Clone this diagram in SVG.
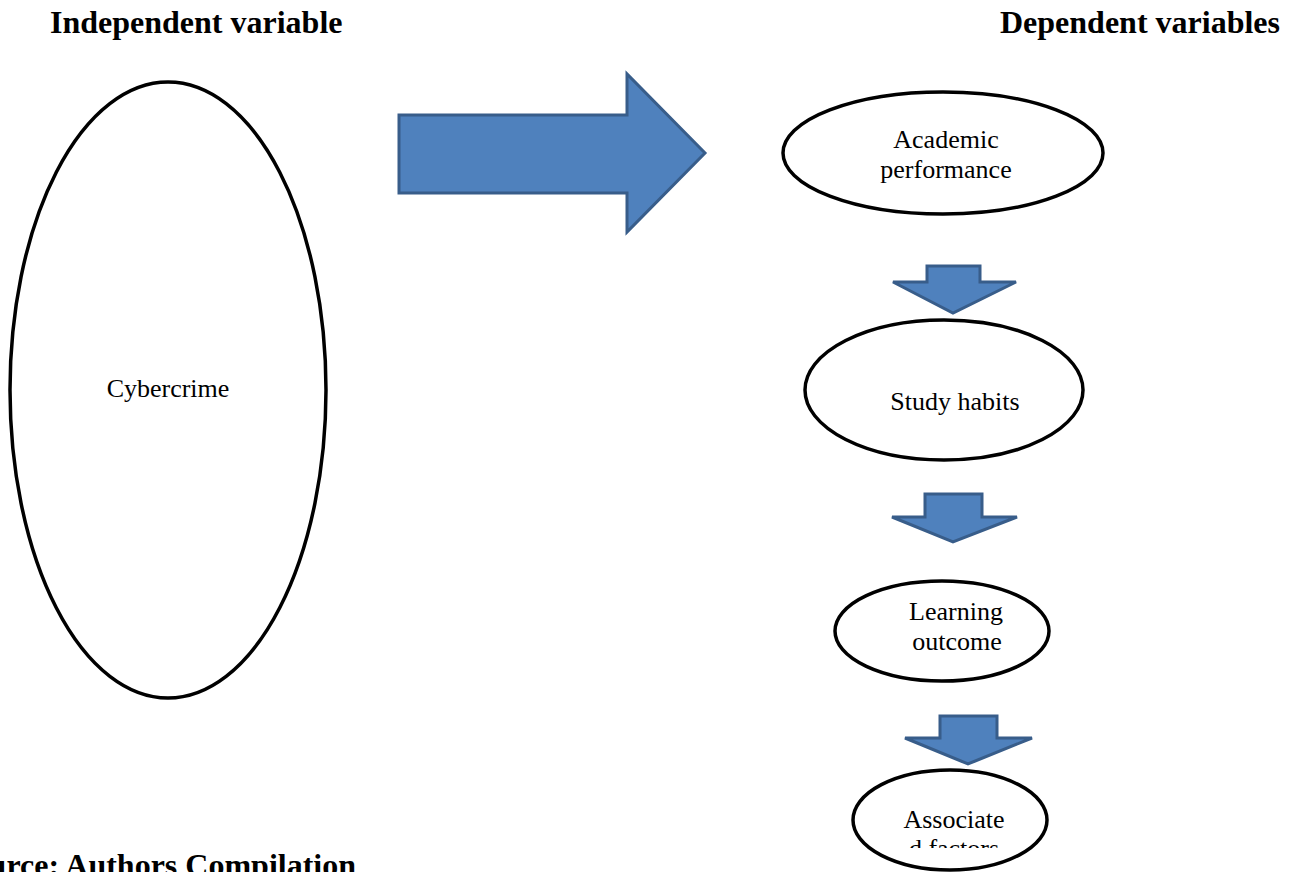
<svg xmlns="http://www.w3.org/2000/svg" width="1290" height="872" viewBox="0 0 1290 872">
<style>
.title{font-family:"Liberation Serif","Times New Roman",serif;font-weight:bold;font-size:32px;fill:#000}
.lbl{font-family:"Liberation Serif","Times New Roman",serif;font-size:26px;fill:#000;text-anchor:middle}
.node ellipse{fill:#fff;stroke:#000;stroke-width:3.5}
.arrow{fill:#4F81BD;stroke:#385D8A;stroke-width:3;stroke-linejoin:miter}
</style>
<defs>
<clipPath id="clipAF"><rect x="850" y="770" width="200" height="78"/></clipPath>
</defs>
<rect width="1290" height="872" fill="#fff"/>
<text class="title" x="50" y="33">Independent variable</text>
<text class="title" x="1000" y="33">Dependent variables</text>
<text class="title" x="356" y="876" text-anchor="end">urce: Authors Compilation</text>

<g id="connectors">
<path class="arrow" d="M399,115 L627,115 L627,74 L705,153 L627,232 L627,193 L399,193 Z"/>
<path class="arrow" d="M927,266 L980,266 L980,282 L1016,282 L953,313 L893,282 L927,282 Z"/>
<path class="arrow" d="M925,494 L982,494 L982,517 L1017,517 L953,542 L892,517 L925,517 Z"/>
<path class="arrow" d="M940,716 L997,716 L997,738 L1032,738 L968,764 L905,738 L940,738 Z"/>
</g>

<g id="cybercrime" class="node">
<ellipse cx="168" cy="390" rx="158" ry="308"/>
<text class="lbl" x="168" y="397">Cybercrime</text>
</g>
<g id="academic" class="node">
<ellipse cx="943" cy="153" rx="160" ry="61"/>
<text class="lbl" x="946" y="148">Academic</text>
<text class="lbl" x="946" y="178">performance</text>
</g>
<g id="study" class="node">
<ellipse cx="944" cy="390" rx="139" ry="70"/>
<text class="lbl" x="955" y="410">Study habits</text>
</g>
<g id="learning" class="node">
<ellipse cx="942" cy="631" rx="107" ry="50"/>
<text class="lbl" x="956" y="620">Learning</text>
<text class="lbl" x="957" y="650">outcome</text>
</g>
<g id="associated" class="node">
<ellipse cx="950" cy="820" rx="97" ry="50"/>
<g clip-path="url(#clipAF)">
<text class="lbl" x="954" y="828">Associate</text>
<text class="lbl" x="954" y="857">d factors</text>
</g>
</g>
</svg>
